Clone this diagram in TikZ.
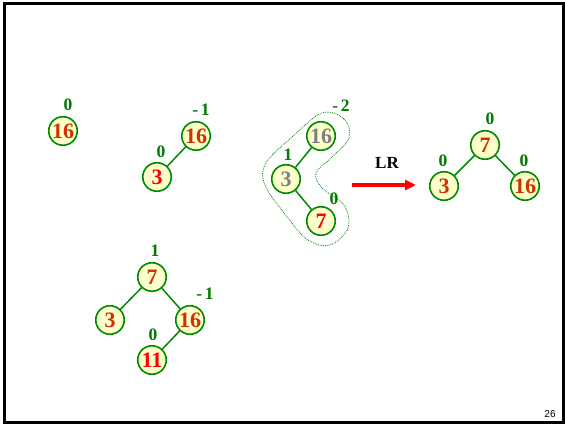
\documentclass[tikz,border=0pt]{standalone}
\usepackage{fontspec}
\setmainfont{Liberation Serif}
\setsansfont{Liberation Sans}
\usetikzlibrary{arrows.meta}
\definecolor{ngreen}{HTML}{008A00}
\definecolor{nfill}{HTML}{FFFFCC}
\definecolor{norange}{HTML}{CC3300}
\definecolor{nred}{HTML}{FF0000}
\definecolor{ngrey}{HTML}{808080}
\definecolor{lgreen}{HTML}{007A00}
\tikzset{
  avl/.style={circle, draw=ngreen, line width=1.6pt, fill=nfill, minimum size=28.5pt, inner sep=0pt,
    font=\fontsize{22}{22}\selectfont\bfseries, text=norange},
  newkey/.style={avl, text=nred},
  greykey/.style={avl, text=ngrey},
  bal/.style={font=\fontsize{17.5}{17.5}\selectfont\bfseries, text=lgreen, inner sep=0pt},
  edge/.style={draw=ngreen, line width=1.5pt},
}
\begin{document}
\begin{tikzpicture}[x=1pt,y=-1pt]
\useasboundingbox (0,0) rectangle (565,425);
\fill[white] (0,0) rectangle (565,425);
\draw[line width=3pt] (4,4) rectangle (563,422.5);
\node[font=\sffamily\fontsize{10}{10}\selectfont] (pg) at (550,414) {26};

% tree 1
\node[avl] (a16) at (63,131) {16};
\node[bal] (ab) at (68,105) {0};

% tree 2
\node[avl] (b16) at (196,136) {16};
\node[newkey] (b3) at (157,177) {3};
\draw[edge] (b16) -- (b3);
\node[bal] (bb16) at (201,110) {-\,1};
\node[bal] (bb3) at (161,152) {0};

% tree 3
\draw[ngreen, densely dotted, line width=0.8pt] plot[smooth cycle, tension=0.6] coordinates {
  (322,113) (344,119) (349,138) (331,158) (316,173) (322,188) (344,205) (348,228)
  (330,245) (308,240) (288,218) (265,185) (266,163) (292,137)};
\node[greykey] (c16) at (321,136) {16};
\node[greykey] (c3) at (286,179) {3};
\node[newkey] (c7) at (321,221) {7};
\draw[edge] (c16) -- (c3);
\draw[edge] (c3) -- (c7);
\node[bal] (cb16) at (341,106) {-\,2};
\node[bal] (cb3) at (288,155) {1};
\node[bal] (cb7) at (334,199) {0};

% arrow
\coordinate (arS) at (352,185);
\coordinate (arE) at (416,185);
\draw[nred, line width=3.5pt, -{Triangle[length=11pt,width=10pt]}] (arS) -- (arE);
\node[font=\fontsize{17}{17}\selectfont\bfseries] (lr) at (387,163) {LR};

% tree 4
\node[avl] (d7) at (485,145) {7};
\node[avl] (d3) at (444,186) {3};
\node[avl] (d16) at (525,186) {16};
\draw[edge] (d7) -- (d3);
\draw[edge] (d7) -- (d16);
\node[bal] (db7) at (490,119) {0};
\node[bal] (db3) at (443,161) {0};
\node[bal] (db16) at (524,161) {0};

% tree 5
\node[avl] (e7) at (152,277) {7};
\node[avl] (e3) at (110,320) {3};
\node[avl] (e16) at (190,320) {16};
\node[newkey] (e11) at (152,360) {11};
\draw[edge] (e7) -- (e3);
\draw[edge] (e7) -- (e16);
\draw[edge] (e16) -- (e11);
\node[bal] (eb7) at (155,251) {1};
\node[bal] (eb16) at (205,294) {-\,1};
\node[bal] (eb11) at (153,335) {0};
\end{tikzpicture}
\end{document}
